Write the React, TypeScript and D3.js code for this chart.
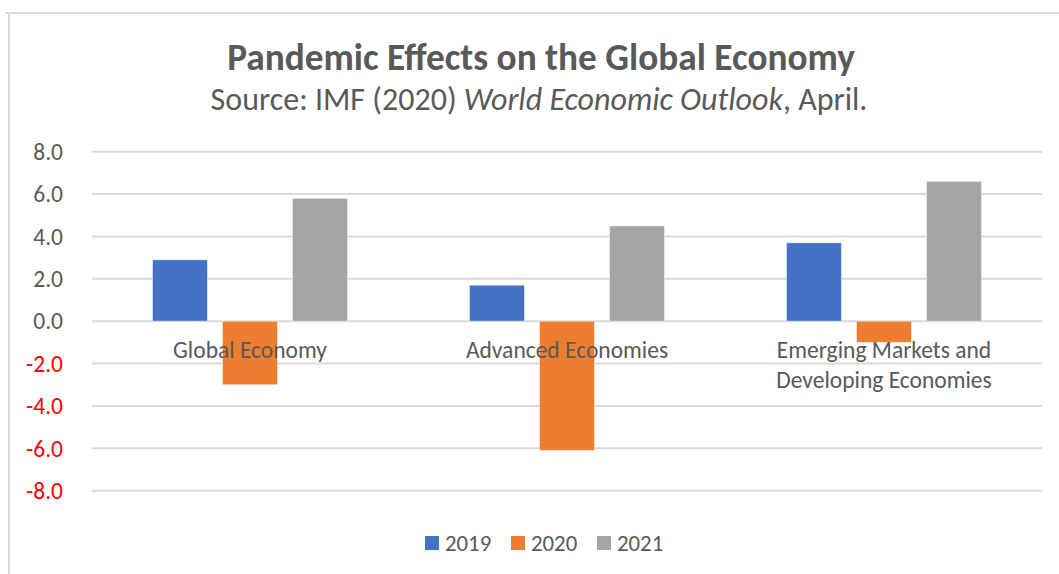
import React from "react";
import * as d3 from "d3";

const categories = ["Global Economy", "Advanced Economies", "Emerging Markets and Developing Economies"];
const categoryLines = [["Global Economy"], ["Advanced Economies"], ["Emerging Markets and", "Developing Economies"]];
const seriesNames = ["2019", "2020", "2021"];
const values2019 = [2.9, 1.7, 3.7];
const values2020 = [-3.0, -6.1, -1.0];
const values2021 = [5.8, 4.5, 6.6];
const seriesColors = ["#4472C4", "#ED7D31", "#A5A5A5"];
const yTicks = [8, 6, 4, 2, 0, -2, -4, -6, -8];

const W = 1059;
const H = 574;
const FONT = "Carlito, 'Liberation Sans Narrow', 'Open Sans', sans-serif";

export default function App() {
  const seriesValues = [values2019, values2020, values2021];
  const x0 = d3.scaleBand<string>().domain(categories).range([91.5, 1042.5]).paddingInner(0).paddingOuter(0);
  const x1 = d3.scaleBand<string>().domain(seriesNames).range([0, x0.bandwidth()]).paddingInner(0.214).paddingOuter(0.871);
  const y = d3.scaleLinear().domain([-8, 8]).range([490.7, 151.7]);

  return (
    <svg width={W} height={H} style={{ position: "absolute", left: 0, top: 0 }} fontFamily={FONT}>
      <rect x={0} y={0} width={W} height={H} fill="#fff" />
      <line x1={5} x2={W} y1={13} y2={13} stroke="#d9d9d9" strokeWidth={2} />
      <line x1={9} x2={9} y1={13} y2={H} stroke="#d9d9d9" strokeWidth={2} />
      <text x={541} y={70} textAnchor="middle" fontSize={37.3} fontWeight="bold" fill="#595959">
        Pandemic Effects on the Global Economy
      </text>
      <text x={539} y={110} textAnchor="middle" fontSize={32} fill="#595959">
        Source: IMF (2020) <tspan fontStyle="italic">World Economic Outlook</tspan>, April.
      </text>
      {yTicks.map((t) => (
        <g key={t}>
          <line x1={92} x2={1042} y1={y(t)} y2={y(t)} stroke="#d9d9d9" strokeWidth={2} />
          <text x={63} y={y(t)} dy="0.35em" textAnchor="end" fontSize={23.5} fill={t < 0 ? "#ff0000" : "#595959"}>
            {t.toFixed(1)}
          </text>
        </g>
      ))}
      {categories.map((c, ci) => (
        <g key={c} transform={`translate(${x0(c)},0)`}>
          {seriesNames.map((s, si) => {
            const v = seriesValues[si][ci];
            const top = y(Math.max(0, v));
            const h = Math.abs(y(v) - y(0));
            return (
              <rect key={s} x={x1(s)} y={top} width={x1.bandwidth()} height={h} fill={seriesColors[si]} stroke="#ffffff" strokeOpacity={0.5} strokeWidth={1} />
            );
          })}
        </g>
      ))}
      {categories.map((c, ci) => {
        const cx = (x0(c) as number) + x0.bandwidth() / 2;
        return (
          <text key={c} x={cx} y={358} textAnchor="middle" fontSize={23.5} fill="#595959">
            {categoryLines[ci].map((line, li) => (
              <tspan key={li} x={cx} y={358 + li * 30}>{line}</tspan>
            ))}
          </text>
        );
      })}
      {seriesNames.map((s, si) => {
        const lx = 425 + si * 86;
        return (
          <g key={s}>
            <rect x={lx} y={536} width={14} height={14} fill={seriesColors[si]} />
            <text x={lx + 20} y={551} fontSize={22.8} fill="#595959">{s}</text>
          </g>
        );
      })}
    </svg>
  );
}
